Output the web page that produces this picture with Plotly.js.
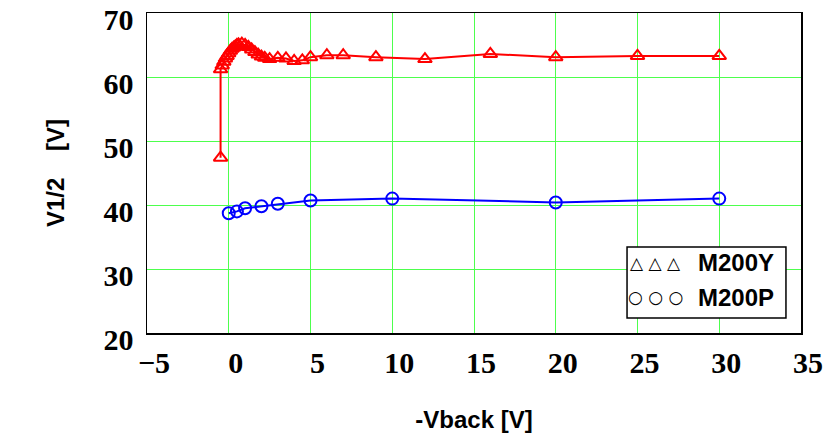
<!DOCTYPE html>
<html>
<head>
<meta charset="utf-8">
<script src="https://cdn.plot.ly/plotly-3.0.1.min.js"></script>
<style>html,body{margin:0;padding:0;background:#fff;}#chart{width:831px;height:439px;}</style>
</head>
<body>
<div id="chart"></div>
<script>
// M200Y series (triangles, red)
const m200yX = [-0.5, -0.5, -0.4, -0.3, -0.2, -0.1, 0, 0.1, 0.2, 0.3, 0.4, 0.5, 0.6, 0.8, 1.0, 1.2, 1.4, 1.6, 1.8, 2.0, 2.2, 2.5, 3, 3.5, 4, 4.5, 5, 6, 7, 9, 12, 16, 20, 25, 30];
const m200yY = [47.4, 61.2, 61.8, 62.4, 62.9, 63.3, 63.7, 64.1, 64.4, 64.6, 64.8, 65.0, 65.1, 65.2, 65.0, 64.7, 64.3, 63.9, 63.5, 63.2, 63.0, 62.8, 63.0, 62.9, 62.5, 62.6, 63.1, 63.4, 63.4, 63.1, 62.8, 63.6, 63.1, 63.3, 63.3];
// M200P series (circles, blue)
const m200pX = [0, 0.5, 1, 2, 3, 5, 10, 20, 30];
const m200pY = [38.7, 39.0, 39.5, 39.8, 40.2, 40.7, 41.0, 40.4, 41.0];
// axis ticks
const xTicks = [-5, 0, 5, 10, 15, 20, 25, 30, 35];
const yTicks = [20, 30, 40, 50, 60, 70];
const seriesNames = ["M200Y", "M200P"];

const tickFont = {family: "Liberation Serif", size: 30, color: "#000", weight: "bold"};
const titleFont = {family: "Liberation Sans", size: 24, color: "#000", weight: "bold"};
const gridGreen = "#4dff4d";

const traces = [
  {x: m200yX, y: m200yY, name: seriesNames[0], mode: "lines+markers", type: "scatter",
   line: {color: "#ff0000", width: 2},
   marker: {symbol: "triangle-up-open", size: 12, color: "#ff0000", line: {width: 2}}},
  {x: m200pX, y: m200pY, name: seriesNames[1], mode: "lines+markers", type: "scatter",
   line: {color: "#0000ff", width: 2},
   marker: {symbol: "circle-open", size: 12, color: "#0000ff", line: {width: 2}}}
];

const layout = {
  width: 831, height: 439,
  margin: {l: 147, r: 30, t: 13, b: 106},
  paper_bgcolor: "#fff", plot_bgcolor: "#fff",
  showlegend: false,
  xaxis: {
    range: [-5, 35.0001], tickvals: xTicks, ticks: "", showgrid: true,
    gridcolor: gridGreen, gridwidth: 1, zeroline: false,
    showline: true, linecolor: "#000", linewidth: 1.5, mirror: true,
    tickfont: tickFont, ticklabelshift: 7, ticklabelstandoff: 2,
    ticklabeloverflow: "allow",
    title: {text: "-Vback [V]", font: titleFont, standoff: 33}
  },
  yaxis: {
    range: [19.9999, 70.0001], tickvals: yTicks, ticks: "", showgrid: true,
    gridcolor: gridGreen, gridwidth: 1, zeroline: false,
    showline: true, linecolor: "#000", linewidth: 1.5, mirror: true,
    tickfont: tickFont, ticklabelshift: 6, ticklabelstandoff: 6,
    ticklabeloverflow: "allow",
    title: {text: "V1/2\u00a0\u00a0\u00a0 [V]", font: titleFont, standoff: 32}
  },
  shapes: [
    {type: "rect", xref: "paper", yref: "paper", x0: 0.734, x1: 0.977, y0: 0.047, y1: 0.269,
     line: {color: "#000", width: 1.5}, fillcolor: "#fff", layer: "above"}
  ],
  annotations: [
    {xref: "paper", yref: "paper", x: 0.778, y: 0.219, xanchor: "center", yanchor: "middle",
     text: "\u25B3 \u25B3 \u25B3", showarrow: false, font: {family: "DejaVu Sans", size: 17, color: "#000"}},
    {xref: "paper", yref: "paper", x: 0.778, y: 0.1125, xanchor: "center", yanchor: "middle",
     text: "\u25CB \u25CB \u25CB", showarrow: false, font: {family: "DejaVu Sans", size: 17, color: "#000"}},
    {xref: "paper", yref: "paper", x: 0.839, y: 0.219, xanchor: "left", yanchor: "middle",
     text: seriesNames[0], showarrow: false, font: titleFont},
    {xref: "paper", yref: "paper", x: 0.839, y: 0.1125, xanchor: "left", yanchor: "middle",
     text: seriesNames[1], showarrow: false, font: titleFont}
  ]
};

Plotly.newPlot("chart", traces, layout, {displayModeBar: false, staticPlot: true});
</script>
</body>
</html>
